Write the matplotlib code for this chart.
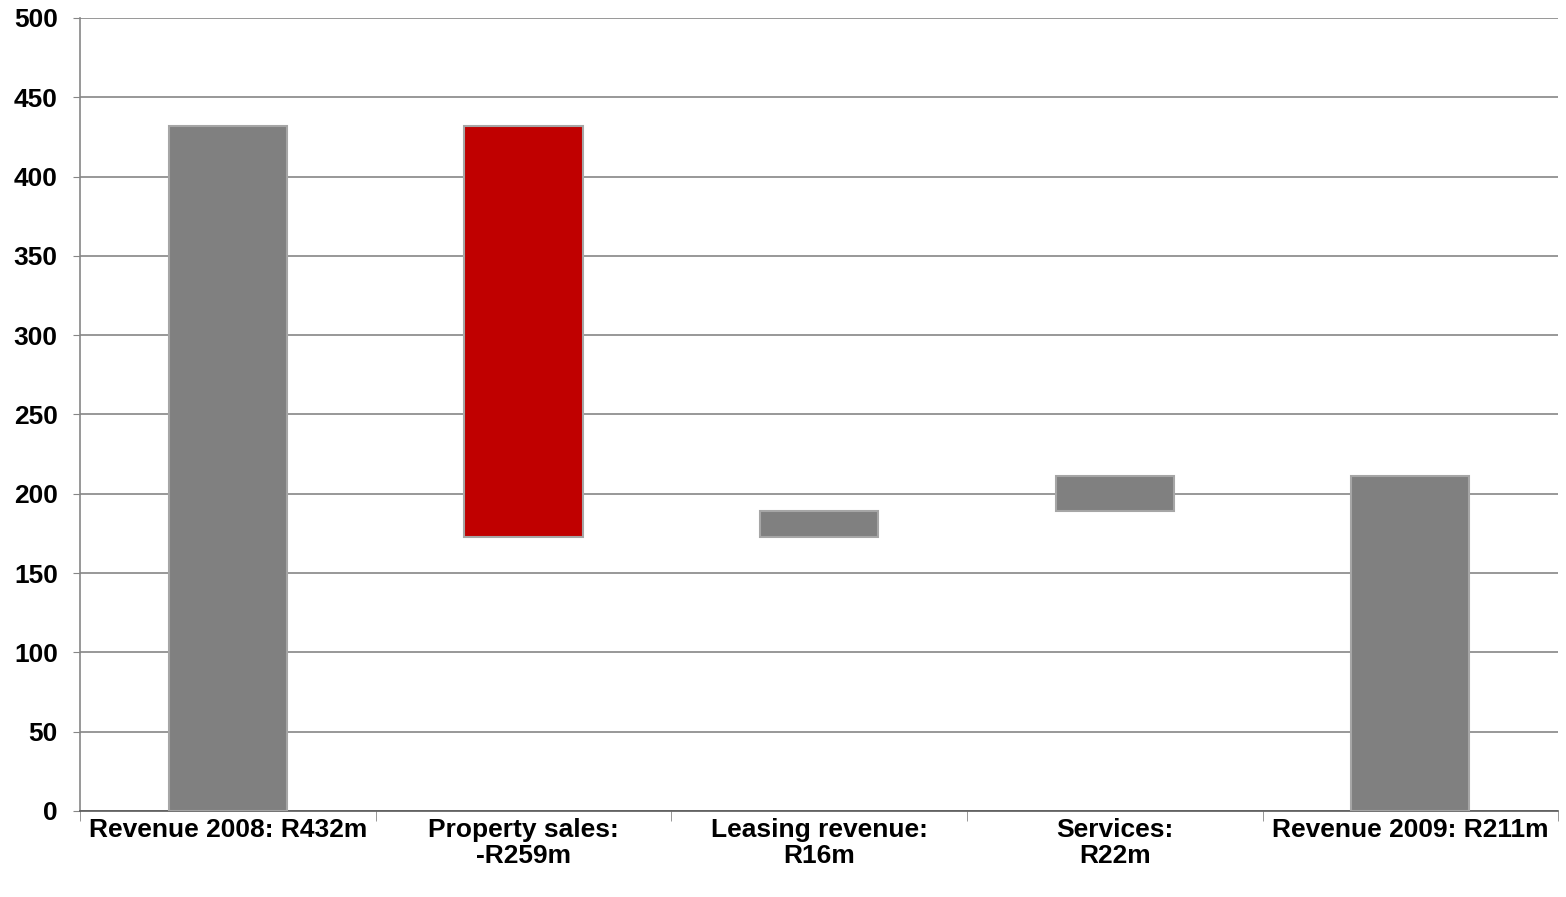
import matplotlib.pyplot as plt
import numpy as np

plt.rcParams['font.family'] = ['Liberation Sans', 'DejaVu Sans']

labels = ['Revenue 2008: R432m', 'Property sales:\n-R259m', 'Leasing revenue:\nR16m',
          'Services:\nR22m', 'Revenue 2009: R211m']
changes = [432, -259, 16, 22]
total_end = 211
colors = ['#808080', '#c00000', '#808080', '#808080', '#808080']

# waterfall bottoms/heights
bottoms = []
heights = []
level = 0
for i, c in enumerate(changes):
    if i == 0:
        bottoms.append(0)
        heights.append(c)
    else:
        bottoms.append(min(level, level + c))
        heights.append(abs(c))
    level += c
bottoms.append(0)
heights.append(total_end)

fig = plt.figure(figsize=(15.66, 8.97), dpi=100)
ax = fig.add_axes([0.0511, 0.0959, 0.9439, 0.8841])

x = np.arange(len(labels))
ax.bar(x, heights, bottom=bottoms, width=0.4, color=colors,
       edgecolor='#a6a6a6', linewidth=1.5, zorder=3)

ax.set_xlim(-0.5, 4.5)
ax.set_ylim(0, 500)
ax.set_yticks(np.arange(0, 501, 50))
ax.grid(axis='y', color='#868686', linewidth=1.2, zorder=0)
ax.set_axisbelow(True)

ax.set_xticks(x)
ax.set_xticklabels(labels, fontsize=19, fontweight='bold', linespacing=1.12)
ax.set_xticks(np.arange(-0.5, 5, 1), minor=True)
ax.tick_params(axis='x', which='major', length=0, pad=5)
ax.tick_params(axis='x', which='minor', length=7, color='#868686', direction='out')
ax.tick_params(axis='y', length=5, color='#868686', pad=11, labelsize=19)
for t in ax.get_yticklabels():
    t.set_fontweight('bold')

for s in ['top', 'right']:
    ax.spines[s].set_visible(False)
ax.spines['left'].set_color('#868686')
ax.spines['bottom'].set_color('#595959')
ax.spines['left'].set_linewidth(1.2)
ax.spines['bottom'].set_linewidth(1.2)

fig.savefig('out.png', dpi=100)
